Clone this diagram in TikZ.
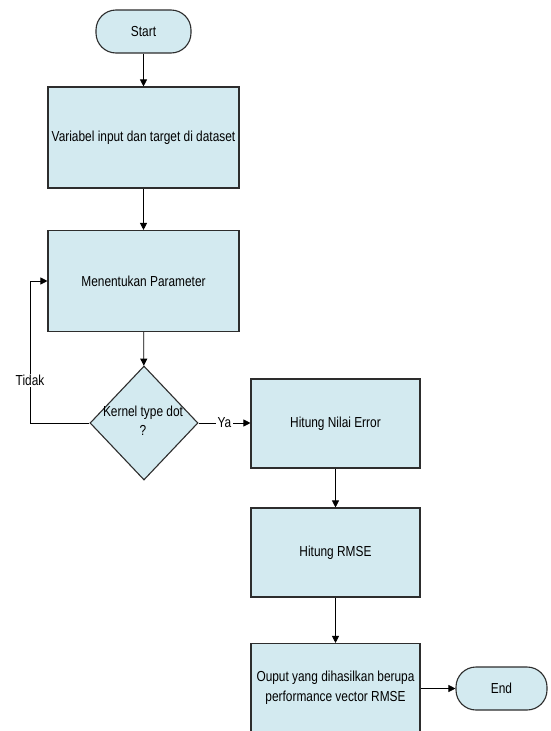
\documentclass[tikz,border=0pt]{standalone}
\usepackage{fontspec}
\setmainfont{Liberation Sans}[FakeStretch=0.82]
\usetikzlibrary{shapes.geometric,arrows.meta}
\definecolor{boxfill}{RGB}{211,234,240}
\definecolor{boxline}{RGB}{45,45,45}
\begin{document}
\begin{tikzpicture}[x=1pt,y=1pt,
  every node/.style={font=\fontsize{14.5}{17}\selectfont},
  procbox/.style={draw=boxline,fill=boxfill,line width=1.1pt,rectangle,inner sep=0pt,align=center},
  leftbox/.style={procbox,minimum width=191pt,minimum height=101pt},
  rightbox/.style={procbox,minimum width=169pt,minimum height=89pt},
  terminal/.style={draw=boxline,fill=boxfill,line width=1.1pt,rectangle,rounded corners=20pt,inner sep=0pt},
  decision/.style={draw=boxline,fill=boxfill,line width=1.1pt,diamond,inner sep=0pt,minimum width=108pt,minimum height=114pt},
  flow/.style={draw=black,line width=0.8pt,-{Triangle[length=7pt,width=7pt]}},
  edgelabel/.style={fill=white,inner sep=1.5pt}]
\useasboundingbox (0,0) rectangle (550,-731);
\clip (0,0) rectangle (550,-731);
\fill[white] (0,0) rectangle (550,-731);

% left column
\node[terminal,minimum width=95pt,minimum height=43pt] (start) at (143.5,-31.5) {Start};
\node[leftbox] (vars) at (143.5,-137.5) {Variabel input dan target di dataset};
\node[leftbox] (param) at (143.5,-281) {Menentukan Parameter};
\node[decision] (kernel) at (144,-423) {};
\node[align=center,inner sep=0pt] (kerneltext) at (143,-421) {Kernel type dot\\[2pt]?};

% right column
\node[rightbox] (error) at (335.5,-423.5) {Hitung Nilai Error};
\node[rightbox] (rmse) at (335.5,-552.5) {Hitung RMSE};
\node[rightbox] (output) at (335.5,-688) {Ouput yang dihasilkan berupa\\[3pt]performance vector RMSE};
\node[terminal,minimum width=91pt,minimum height=43pt] (end) at (501.5,-688.5) {End};

% connectors
\draw[flow] (start) -- (vars);
\draw[flow] (vars) -- (param);
\draw[flow] (param) -- (kernel);
\coordinate (backlow) at (30,-423);
\coordinate (backhigh) at (30,-281);
\draw[flow] (kernel.west) -- (backlow) -- node[edgelabel,pos=0.3] {Tidak} (backhigh) -- (param.west);
\draw[flow] (kernel.east) -- node[edgelabel,pos=0.5] {Ya} (error.west |- kernel.east);
\draw[flow] (error) -- (rmse);
\draw[flow] (rmse) -- (output);
\draw[flow] (output.east |- end) -- (end);
\end{tikzpicture}
\end{document}
